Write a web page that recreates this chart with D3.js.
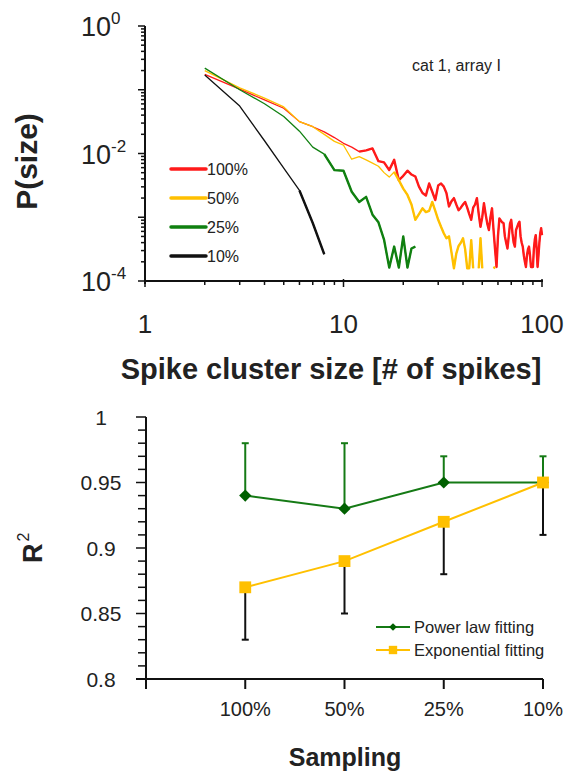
<!DOCTYPE html>
<html>
<head>
<meta charset="utf-8">
<script src="https://cdn.jsdelivr.net/npm/d3@7"></script>
<style>
  html, body { margin: 0; padding: 0; background: #fff; }
  svg { display: block; font-family: "Liberation Sans", Arial, sans-serif; }
</style>
</head>
<body>
<svg id="chart" width="569" height="772"></svg>
<script>
// ---------------- DATA (top panel) ----------------
// cluster sizes (# of spikes)
const clusterSizes = [2,3,4,5,6,7,8,9,10,11,12,13,14,15,16,17,18,19,20,21,22,23,24,25,26,27,28,29,30,31,32,33,34,35,36,37,38,39,40,41,42,43,44,45,46,47,48,49,50,51,52,53,54,55,56,57,58,59,60,61,62,63,64,65,66,67,68,69,70,71,72,73,74,75,76,77,78,79,80,81,82,83,84,85,86,87,88,89,90,91,92,93,94,95,96,97,98,99,100];
// log10 P(size) per sampling level (null = no cluster of that size)
const logP100 = [-0.76,-0.99,-1.16,-1.29,-1.50,-1.58,-1.66,-1.75,-1.84,-1.90,
  -1.97,-1.95,-1.92,-2.12,-2.14,-2.26,-2.10,-2.42,-2.35,-2.27,
  -2.33,-2.36,-2.52,-2.62,-2.66,-2.47,-2.60,-2.73,-2.50,-2.47,
  -2.52,-2.62,-2.83,-2.75,-2.70,-2.80,-2.89,-2.85,-2.80,-2.76,
  -2.85,-2.95,-3.04,-2.85,-2.80,-2.70,-2.95,-3.15,-3.00,-2.78,
  -2.95,-3.10,-3.20,-3.00,-2.86,-3.20,-3.50,-3.78,-3.30,-3.02,
  -3.05,-3.08,-3.09,-3.30,-3.40,-3.49,-3.30,-3.10,-3.04,-3.25,
  -3.40,-3.46,-3.20,-3.15,-3.10,-3.07,-3.30,-3.40,-3.46,-3.60,
  -3.70,-3.78,-3.60,-3.50,-3.46,-3.60,-3.78,-3.78,-3.78,-3.50,
  -3.35,-3.28,-3.50,-3.78,-3.60,-3.40,-3.25,-3.17,-3.28];
const logP50 = [-0.70,-0.97,-1.13,-1.27,-1.50,-1.58,-1.70,-1.81,-1.87,-2.09,
  -2.05,-2.10,-2.15,-2.20,-2.30,-2.37,-2.29,-2.42,-2.55,-2.65,
  -2.80,-3.04,-2.95,-2.86,-2.92,-2.90,-2.76,-2.90,-3.04,-3.15,
  -3.25,-3.33,-3.30,-3.55,-3.80,-3.57,-3.45,-3.40,-3.33,-3.50,
  -3.80,-3.80,-3.36,-3.80,null,null,-3.80,-3.33,-3.80,null,
  null,null,null,null,null,-3.80,-3.78];
const logP25 = [-0.66,-1.00,-1.22,-1.42,-1.65,-1.90,-2.01,-2.26,-2.27,-2.60,
  -2.76,-2.68,-2.96,-3.08,-3.35,-3.79,-3.46,-3.79,-3.30,-3.79,
  -3.49,-3.46];
const logP10 = [-0.77,-1.255,-1.80,-2.23,-2.58,-3.09,-3.58];

const seriesNames = ["100%", "50%", "25%", "10%"];
const xTickLabelsTop = ["1", "10", "100"];
const yTickExpTop = ["0", "-2", "-4"];

// ---------------- DATA (bottom panel) ----------------
const samplingLabels = ["100%", "50%", "25%", "10%"];
const powerLawR2 = [0.94, 0.93, 0.95, 0.95];
const powerLawUpper = [0.98, 0.98, 0.97, 0.97];
const expR2 = [0.87, 0.89, 0.92, 0.95];
const expLower = [0.83, 0.85, 0.88, 0.91];
const yTickLabelsBottom = ["0.8", "0.85", "0.9", "0.95", "1"];
const legendBottom = ["Power law fitting", "Exponential fitting"];

// ---------------- STYLE ----------------
const colors = { "100%": "#ff1a1a", "50%": "#ffc000", "25%": "#108010", "10%": "#111111" };
const thickFrom = { "100%": 12, "50%": 18, "25%": 8, "10%": 6 };
const greenB = "#157a15", greenMarker = "#006000", yellowB = "#ffc000";

const svg = d3.select("#chart");

// ============ TOP PANEL ============
const xTop = d3.scaleLog().domain([1, 100]).range([145, 542]);
const yTop = d3.scaleLog().domain([1e-4, 1]).range([281, 26]);
const gTop = svg.append("g");

gTop.append("line").attr("x1", xTop(1)).attr("x2", xTop(1)).attr("y1", yTop(1)).attr("y2", yTop(1e-4) + 3)
  .attr("stroke", "#111").attr("stroke-width", 2);
gTop.append("line").attr("x1", xTop(1) - 1).attr("x2", xTop(100) + 1).attr("y1", yTop(1e-4)).attr("y2", yTop(1e-4))
  .attr("stroke", "#111").attr("stroke-width", 2);

const yTicksTop = [];
for (let e = -4; e <= 0; e++) {
  yTicksTop.push({ v: Math.pow(10, e), major: true });
  if (e < 0) for (let m = 2; m <= 9; m++) yTicksTop.push({ v: m * Math.pow(10, e), major: false });
}
gTop.selectAll(".yt").data(yTicksTop).join("line")
  .attr("x1", d => xTop(1) - (d.major ? 7 : 4)).attr("x2", xTop(1))
  .attr("y1", d => yTop(d.v)).attr("y2", d => yTop(d.v))
  .attr("stroke", "#111").attr("stroke-width", 1.5);
const xTicksTop = [];
for (let e = 0; e <= 2; e++) {
  xTicksTop.push({ v: Math.pow(10, e), major: true });
  if (e < 2) for (let m = 2; m <= 9; m++) xTicksTop.push({ v: m * Math.pow(10, e), major: false });
}
gTop.selectAll(".xt").data(xTicksTop).join("line")
  .attr("x1", d => xTop(d.v)).attr("x2", d => xTop(d.v))
  .attr("y1", d => yTop(1e-4) - (d.major ? 2 : 0)).attr("y2", d => yTop(1e-4) + (d.major ? 6 : 4))
  .attr("stroke", "#111").attr("stroke-width", 1.5);

yTickExpTop.forEach(ex => {
  const t = gTop.append("text").attr("x", 81).attr("y", yTop(Math.pow(10, +ex)) + 10)
    .attr("font-size", 27).attr("fill", "#222");
  t.append("tspan").text("10");
  t.append("tspan").attr("dy", -12).attr("font-size", 17).text(ex);
});
xTickLabelsTop.forEach(l => {
  gTop.append("text").attr("x", xTop(+l)).attr("y", 333).attr("text-anchor", "middle")
    .attr("font-size", 26).attr("fill", "#222").text(l);
});
gTop.append("text").attr("transform", `translate(37,${(yTop(1) + yTop(1e-4)) / 2 + 8}) rotate(-90)`)
  .attr("text-anchor", "middle").attr("font-size", 30).attr("font-weight", "bold").attr("fill", "#222")
  .text("P(size)");
gTop.append("text").attr("x", 331).attr("y", 379).attr("text-anchor", "middle")
  .attr("font-size", 29).attr("font-weight", "bold").attr("fill", "#222")
  .text("Spike cluster size [# of spikes]");
gTop.append("text").attr("x", 412).attr("y", 71).attr("font-size", 16).attr("fill", "#222").text("cat 1, array I");

const seriesTop = [
  { name: "100%", vals: logP100 },
  { name: "50%", vals: logP50 },
  { name: "25%", vals: logP25 },
  { name: "10%", vals: logP10 }
];
const lineTop = d3.line()
  .defined(d => d.lp !== null)
  .x(d => xTop(d.s)).y(d => yTop(Math.pow(10, d.lp)));
seriesTop.forEach(sr => {
  const pts = sr.vals.map((lp, i) => ({ s: clusterSizes[i], lp: lp }));
  gTop.append("path").attr("d", lineTop(pts)).attr("fill", "none")
    .attr("stroke", colors[sr.name]).attr("stroke-width", 1.3).attr("stroke-linejoin", "round");
  const thick = pts.filter(d => d.s >= thickFrom[sr.name]);
  gTop.append("path").attr("d", lineTop(thick)).attr("fill", "none")
    .attr("stroke", colors[sr.name]).attr("stroke-width", 2.4).attr("stroke-linejoin", "round");
});

seriesNames.forEach((n, i) => {
  const y = 169 + i * 29;
  gTop.append("line").attr("x1", 171).attr("x2", 206).attr("y1", y).attr("y2", y)
    .attr("stroke", colors[n]).attr("stroke-width", 3.5).attr("stroke-linecap", "round");
  gTop.append("text").attr("x", 207).attr("y", y + 6).attr("font-size", 16).attr("fill", "#222").text(n);
});

// ============ BOTTOM PANEL ============
const xB = d3.scaleLinear().domain([0, 4]).range([146, 543]);
const yB = d3.scaleLinear().domain([0.8, 1]).range([679, 417]);
const gB = svg.append("g");

gB.append("line").attr("x1", xB(0)).attr("x2", xB(0)).attr("y1", yB(1)).attr("y2", yB(0.8) + 10)
  .attr("stroke", "#111").attr("stroke-width", 2);
gB.append("line").attr("x1", xB(0) - 10).attr("x2", xB(4)).attr("y1", yB(0.8)).attr("y2", yB(0.8))
  .attr("stroke", "#111").attr("stroke-width", 2);
const yTicksB = d3.range(0, 21).map(i => ({ v: 0.8 + i * 0.01, major: i % 5 === 0 }));
gB.selectAll(".ytb").data(yTicksB).join("line")
  .attr("x1", d => xB(0) - (d.major ? 10 : 8)).attr("x2", xB(0))
  .attr("y1", d => yB(d.v)).attr("y2", d => yB(d.v))
  .attr("stroke", "#111").attr("stroke-width", 1.5);
gB.selectAll(".xtb").data([1, 2, 3, 4]).join("line")
  .attr("x1", d => xB(d)).attr("x2", d => xB(d))
  .attr("y1", yB(0.8)).attr("y2", yB(0.8) + 10)
  .attr("stroke", "#111").attr("stroke-width", 2);

yTickLabelsBottom.forEach(l => {
  gB.append("text").attr("x", 101).attr("y", yB(+l) + 7.5).attr("text-anchor", "middle")
    .attr("font-size", 21).attr("fill", "#222").text(l);
});
samplingLabels.forEach((l, i) => {
  gB.append("text").attr("x", xB(i + 1)).attr("y", 716).attr("text-anchor", "middle")
    .attr("font-size", 20).attr("fill", "#222").text(l);
});
gB.append("text").attr("x", 345).attr("y", 766).attr("text-anchor", "middle")
  .attr("font-size", 25).attr("font-weight", "bold").attr("fill", "#222").text("Sampling");
const rt = gB.append("text").attr("transform", `translate(42,563) rotate(-90)`)
  .attr("font-size", 27).attr("font-weight", "bold").attr("fill", "#222");
rt.append("tspan").text("R");
rt.append("tspan").attr("dx", 2).attr("dy", -13).attr("font-size", 16).attr("font-weight", "normal").text("2");

samplingLabels.forEach((l, i) => {
  const x = xB(i + 1);
  gB.append("line").attr("x1", x).attr("x2", x).attr("y1", yB(powerLawR2[i])).attr("y2", yB(powerLawUpper[i]))
    .attr("stroke", greenB).attr("stroke-width", 2);
  gB.append("line").attr("x1", x - 3.5).attr("x2", x + 3.5).attr("y1", yB(powerLawUpper[i])).attr("y2", yB(powerLawUpper[i]))
    .attr("stroke", greenB).attr("stroke-width", 2);
  gB.append("line").attr("x1", x).attr("x2", x).attr("y1", yB(expR2[i])).attr("y2", yB(expLower[i]))
    .attr("stroke", "#111").attr("stroke-width", 2);
  gB.append("line").attr("x1", x - 3.5).attr("x2", x + 3.5).attr("y1", yB(expLower[i])).attr("y2", yB(expLower[i]))
    .attr("stroke", "#111").attr("stroke-width", 2);
});
const lineB = d3.line().x((d, i) => xB(i + 1)).y(d => yB(d));
gB.append("path").attr("d", lineB(powerLawR2)).attr("fill", "none").attr("stroke", greenB).attr("stroke-width", 2);
gB.append("path").attr("d", lineB(expR2)).attr("fill", "none").attr("stroke", yellowB).attr("stroke-width", 2);
gB.selectAll(".dm").data(powerLawR2).join("path")
  .attr("d", d3.symbol().type(d3.symbolSquare).size(75))
  .attr("transform", (d, i) => `translate(${xB(i + 1)},${yB(d)}) rotate(45)`)
  .attr("fill", greenMarker);
gB.selectAll(".sq").data(expR2).join("path")
  .attr("d", d3.symbol().type(d3.symbolSquare).size(140))
  .attr("transform", (d, i) => `translate(${xB(i + 1)},${yB(d)})`)
  .attr("fill", yellowB);

[{ c: greenB, m: "d" }, { c: yellowB, m: "s" }].forEach((it, i) => {
  const y = 627 + i * 23;
  gB.append("line").attr("x1", 376).attr("x2", 410).attr("y1", y).attr("y2", y)
    .attr("stroke", it.c).attr("stroke-width", 2);
  if (it.m === "d") {
    gB.append("path").attr("d", d3.symbol().type(d3.symbolSquare).size(30))
      .attr("transform", `translate(393,${y}) rotate(45)`).attr("fill", greenMarker);
  } else {
    gB.append("path").attr("d", d3.symbol().type(d3.symbolSquare).size(70))
      .attr("transform", `translate(393,${y})`).attr("fill", yellowB);
  }
  gB.append("text").attr("x", 414).attr("y", y + 6).attr("font-size", 16.5).attr("fill", "#222").text(legendBottom[i]);
});
</script>
</body>
</html>
